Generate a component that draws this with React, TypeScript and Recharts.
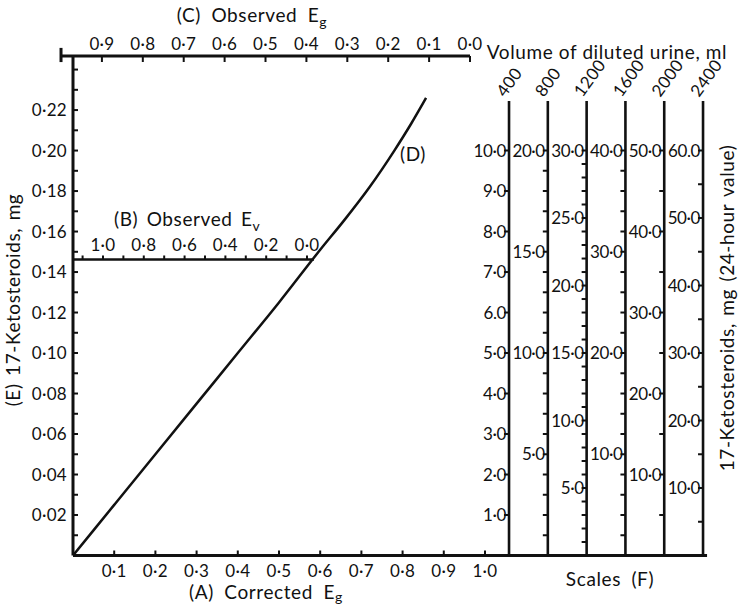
import React from 'react';
import { ComposedChart, Line, Scatter, XAxis, YAxis, ReferenceLine } from 'recharts';

const FONT = 'Lato, "Open Sans", sans-serif';
const INK = '#111';

// (D) corrected Eg -> 17-ketosteroids (mg)
const CURVE_X = [0, 0.1, 0.2, 0.3, 0.4, 0.5, 0.6, 0.66, 0.72, 0.78, 0.82, 0.857];
const CURVE_Y = [0, 0.025, 0.05, 0.075, 0.1, 0.125, 0.151, 0.166, 0.182, 0.2, 0.213, 0.226];

// axis ticks
const A_TICKS = [0.1, 0.2, 0.3, 0.4, 0.5, 0.6, 0.7, 0.8, 0.9, 1.0];
const C_TICKS = [0, 0.1, 0.2, 0.3, 0.4, 0.5, 0.6, 0.7, 0.8, 0.9];
const B_TICKS = [0, 0.1, 0.2, 0.3, 0.4, 0.5, 0.6, 0.7, 0.8, 0.9, 1.0, 1.1];
const B_LABELS = [0, 0.2, 0.4, 0.6, 0.8, 1.0];
const E_TICKS = [
  0.01, 0.02, 0.03, 0.04, 0.05, 0.06, 0.07, 0.08, 0.09, 0.1, 0.11, 0.12,
  0.13, 0.14, 0.15, 0.16, 0.17, 0.18, 0.19, 0.2, 0.21, 0.22, 0.23, 0.24,
];
const E_LABELS = [0.02, 0.04, 0.06, 0.08, 0.1, 0.12, 0.14, 0.16, 0.18, 0.2, 0.22];
const B_LEVEL = 0.1462; // where the Ev scale crosses the E axis

// scales (F): volume of diluted urine and the 24-hour mg on each
const VOLUMES = [400, 800, 1200, 1600, 2000, 2400];
const FACTORS = [50, 100, 150, 200, 250, 300];
const F400_TICKS = [1, 2, 3, 4, 5, 6, 7, 8, 9, 10];
const F400_LABELS = [1, 2, 3, 4, 5, 6, 7, 8, 9, 10];
const F800_TICKS = [1, 2, 3, 4, 5, 6, 7, 8, 9, 10, 11, 12, 13, 14, 15, 16, 17, 18, 19, 20];
const F800_LABELS = [5, 10, 15, 20];
const F1200_TICKS = [
  1, 2, 3, 4, 5, 6, 7, 8, 9, 10, 11, 12, 13, 14, 15, 16, 17, 18, 19, 20,
  21, 22, 23, 24, 25, 26, 27, 28, 29, 30,
];
const F1200_LABELS = [5, 10, 15, 20, 25, 30];
const F1600_TICKS = [2, 4, 6, 8, 10, 12, 14, 16, 18, 20, 22, 24, 26, 28, 30, 32, 34, 36, 38, 40];
const F1600_LABELS = [10, 20, 30, 40];
const F2000_TICKS = [5, 10, 15, 20, 25, 30, 35, 40, 45, 50];
const F2000_LABELS = [10, 20, 30, 40, 50];
const F2400_TICKS = [5, 10, 15, 20, 25, 30, 35, 40, 45, 50, 55, 60];
const F2400_LABELS = [10, 20, 30, 40, 50, 60];
const ODD_LABELS: Record<string, string> = { '400-6': '6.0', '2400-60': '60.0' };

const SCALES = [
  { ticks: F400_TICKS, labels: F400_LABELS },
  { ticks: F800_TICKS, labels: F800_LABELS },
  { ticks: F1200_TICKS, labels: F1200_LABELS },
  { ticks: F1600_TICKS, labels: F1600_LABELS },
  { ticks: F2000_TICKS, labels: F2000_LABELS },
  { ticks: F2400_TICKS, labels: F2400_LABELS },
];

// layout (pixel geometry of the figure, turned into axis domains)
const Y_TOP = 0.2467;
const SCALE_TOP = 0.2245;
const X_END = 1.539;
const X_DOMAIN = [0, 1.5947];
const C_DOMAIN = [-0.6357, 0.9707];
const EV_DOMAIN = [-2.0735, 1.147];
const VOL_DOMAIN = [-4095, 2678];

const dot = (v: number, d: number) => v.toFixed(d).replace('.', '·');

const curve = CURVE_X.map((x, i) => ({ x, y: CURVE_Y[i] }));
const evPoints = B_TICKS.map((x) => ({ x, y: B_LEVEL, lab: B_LABELS.includes(x) }));
const volPoints = VOLUMES.map((x) => ({ x, y: SCALE_TOP }));

const txt = { fontFamily: FONT, fill: INK, stroke: 'none' } as const;
const tickTxt = { ...txt, fontSize: 17, letterSpacing: 0.3 } as const;
const title = { ...txt, fontSize: 19, letterSpacing: 0.6, wordSpacing: 5 } as const;

const YTick = (p: any) => {
  const v = p.payload.value;
  return (
    <g>
      <line x1={p.x} x2={p.x + 5} y1={p.y} y2={p.y} stroke={INK} strokeWidth={2} />
      {E_LABELS.includes(v) && (
        <text {...tickTxt} x={p.x - 6} y={p.y} dy={6} textAnchor="end">
          {dot(v, 2)}
        </text>
      )}
    </g>
  );
};

const ATick = (p: any) => (
  <g>
    <line x1={p.x} x2={p.x} y1={p.y} y2={p.y - 5} stroke={INK} strokeWidth={2} />
    <text {...tickTxt} x={p.x} y={p.y + 21} textAnchor="middle">
      {dot(p.payload.value, 1)}
    </text>
  </g>
);

const CTick = (p: any) => (
  <g>
    <line x1={p.x} x2={p.x} y1={p.y} y2={p.y + 6} stroke={INK} strokeWidth={2} />
    <text {...tickTxt} x={p.x} y={p.y - 6} textAnchor="middle">
      {dot(p.payload.value, 1)}
    </text>
  </g>
);

const evShape = (p: any) => (
  <g>
    <line x1={p.cx} x2={p.cx} y1={p.cy} y2={p.cy - 4} stroke={INK} strokeWidth={2} />
    {p.payload.lab && (
      <text {...tickTxt} x={p.cx} y={p.cy - 8} textAnchor="middle">
        {dot(p.payload.x, 1)}
      </text>
    )}
  </g>
);

const volShape = (p: any) => (
  <text
    {...tickTxt}
    x={p.cx - 4}
    y={p.cy - 3}
    transform={`rotate(-54 ${p.cx - 4} ${p.cy - 3})`}
  >
    {p.payload.x}
  </text>
);

const scaleShape = (p: any) => (
  <g>
    <line x1={p.cx - 5} x2={p.cx} y1={p.cy} y2={p.cy} stroke={INK} strokeWidth={2} />
    {p.payload.text && (
      <text {...tickTxt} x={p.cx - 3} y={p.cy} dy={6} textAnchor="end" letterSpacing={-0.4}>
        {p.payload.text}
      </text>
    )}
  </g>
);

export default function App() {
  return (
    <div style={{ width: 743, height: 607, background: '#fff' }}>
      <style>{'body{margin:0}'}</style>
      <ComposedChart
        width={743}
        height={607}
        data={curve}
        margin={{ top: 26, right: 13, bottom: 21.5, left: 13 }}
      >
        <XAxis
          xAxisId="a"
          type="number"
          dataKey="x"
          domain={X_DOMAIN}
          allowDataOverflow
          ticks={A_TICKS}
          interval={0}
          height={30}
          tickSize={0}
          tickMargin={0}
          tickLine={false}
          axisLine={false}
          tick={ATick}
        />
        <XAxis
          xAxisId="c"
          orientation="top"
          type="number"
          dataKey="x"
          domain={C_DOMAIN}
          reversed
          allowDataOverflow
          ticks={C_TICKS}
          interval={0}
          height={30}
          tickSize={0}
          tickMargin={0}
          tickLine={false}
          axisLine={false}
          tick={CTick}
        />
        <XAxis xAxisId="ev" type="number" dataKey="x" domain={EV_DOMAIN} reversed allowDataOverflow hide />
        <XAxis xAxisId="vol" type="number" dataKey="x" domain={VOL_DOMAIN} allowDataOverflow hide />
        <YAxis
          yAxisId="e"
          type="number"
          dataKey="y"
          domain={[0, Y_TOP]}
          allowDataOverflow
          ticks={E_TICKS}
          interval={0}
          width={60}
          tickSize={0}
          tickMargin={0}
          tickLine={false}
          axisLine={{ stroke: INK, strokeWidth: 3 }}
          tick={YTick}
        />
        {VOLUMES.map((v, i) => (
          <YAxis
            key={v}
            yAxisId={`f${v}`}
            type="number"
            dataKey="y"
            domain={[0, Y_TOP * FACTORS[i]]}
            allowDataOverflow
            hide
          />
        ))}

        {/* bottom axis (A) line, running under the scales */}
        <ReferenceLine
          xAxisId="a"
          yAxisId="e"
          segment={[{ x: 0, y: 0 }, { x: X_END, y: 0 }]}
          stroke={INK}
          strokeWidth={3}
        />

        {/* top scale (C) line */}
        <ReferenceLine
          xAxisId="c"
          yAxisId="e"
          ifOverflow="visible"
          segment={[{ x: 1.0, y: Y_TOP }, { x: 0, y: Y_TOP }]}
          stroke={INK}
          strokeWidth={3}
        />
        <ReferenceLine
          xAxisId="c"
          yAxisId="e"
          ifOverflow="visible"
          segment={[{ x: 1.0, y: Y_TOP + 0.004 }, { x: 1.0, y: Y_TOP - 0.003 }]}
          stroke={INK}
          strokeWidth={3}
        />

        {/* Ev scale (B) */}
        <ReferenceLine
          xAxisId="a"
          yAxisId="e"
          segment={[{ x: 0, y: B_LEVEL }, { x: 0.585, y: B_LEVEL }]}
          stroke={INK}
          strokeWidth={2.5}
        />
        <Scatter xAxisId="ev" yAxisId="e" data={evPoints} shape={evShape} isAnimationActive={false} />

        {/* scales (F) */}
        {VOLUMES.map((v) => (
          <ReferenceLine
            key={v}
            xAxisId="vol"
            yAxisId="e"
            segment={[{ x: v, y: 0 }, { x: v, y: SCALE_TOP }]}
            stroke={INK}
            strokeWidth={2.6}
          />
        ))}
        {VOLUMES.map((v, i) => (
          <Scatter
            key={`s${v}`}
            xAxisId="vol"
            yAxisId={`f${v}`}
            data={SCALES[i].ticks.map((s) => ({
              x: v,
              y: s,
              text: SCALES[i].labels.includes(s) ? ODD_LABELS[`${v}-${s}`] ?? dot(s, 1) : '',
            }))}
            shape={scaleShape}
            isAnimationActive={false}
          />
        ))}
        <Scatter xAxisId="vol" yAxisId="e" data={volPoints} shape={volShape} isAnimationActive={false} />

        <Line
          xAxisId="a"
          yAxisId="e"
          dataKey="y"
          type="monotone"
          stroke={INK}
          strokeWidth={2.5}
          dot={false}
          isAnimationActive={false}
        />

        <text {...title} x={252} y={22} textAnchor="middle">
          (C) Observed E<tspan dy={5} fontSize={14}>g</tspan>
        </text>
        <text {...title} x={114} y={226} wordSpacing={3}>
          (B) Observed E<tspan dy={5} fontSize={14}>v</tspan>
        </text>
        <text {...title} x={266} y={599} textAnchor="middle">
          (A) Corrected E<tspan dy={3} fontSize={14}>g</tspan>
        </text>
        <text {...title} x={400} y={161}>(D)</text>
        <text {...title} x={607} y={59} textAnchor="middle" wordSpacing={0}>
          Volume of diluted urine, ml
        </text>
        <text {...title} x={610} y={586} textAnchor="middle">Scales (F)</text>
        <text
          {...title}
          x={20}
          y={300}
          textAnchor="middle"
          wordSpacing={2}
          transform="rotate(-90 20 300)"
        >
          (E) 17-Ketosteroids, mg
        </text>
        <text
          {...title}
          x={734}
          y={308}
          textAnchor="middle"
          wordSpacing={2}
          transform="rotate(-90 734 308)"
        >
          17-Ketosteroids, mg (24-hour value)
        </text>
      </ComposedChart>
    </div>
  );
}
